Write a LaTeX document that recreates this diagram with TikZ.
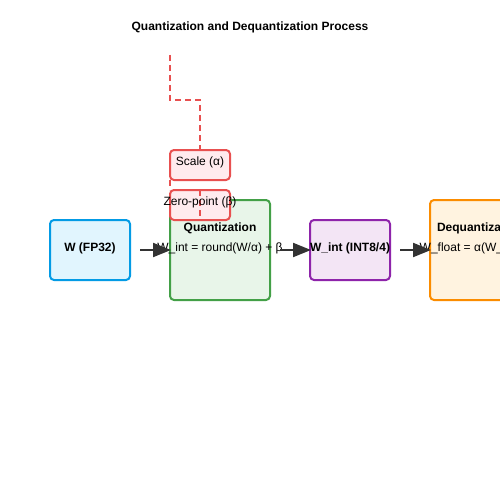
\documentclass[tikz,border=0pt]{standalone}
\usepackage{fontspec}
\setmainfont{Liberation Sans}
\usetikzlibrary{arrows.meta}
\definecolor{bluec}{HTML}{039BE5}\definecolor{bluef}{HTML}{E1F5FE}
\definecolor{greenc}{HTML}{43A047}\definecolor{greenf}{HTML}{E8F5E9}
\definecolor{purc}{HTML}{8E24AA}\definecolor{purf}{HTML}{F3E5F5}
\definecolor{orac}{HTML}{FB8C00}\definecolor{oraf}{HTML}{FFF3E0}
\definecolor{redc}{HTML}{E85050}\definecolor{redf}{HTML}{FFEBEE}
\definecolor{arr}{HTML}{333333}
\tikzset{
  box/.style={draw, line width=2pt, rounded corners=4pt},
  lbl/.style={font=\fontsize{12}{14}\selectfont, inner sep=0pt},
  blbl/.style={font=\bfseries\fontsize{12}{14}\selectfont, inner sep=0pt},
  flow/.style={draw=arr, line width=2pt, -{Triangle[length=18pt,width=14pt]}},
  dashln/.style={draw=redc, line width=2pt, dash pattern=on 6pt off 4pt}
}
\begin{document}
\begin{tikzpicture}[x=1pt,y=-1pt]
\useasboundingbox (0,0) rectangle (500,500);
\clip (0,0) rectangle (500,500);
\fill[white] (0,0) rectangle (500,500);
\node[blbl] (title) at (250,27.5) {Quantization and Dequantization Process};
% dashed lines behind
\coordinate (d0) at (170,55);
\coordinate (d1) at (170,100);
\coordinate (d2) at (200,100);
\coordinate (d3) at (200,150);
\draw[dashln] (d0) -- (d1) -- (d2) -- (d3);
% boxes
\draw[box, draw=bluec, fill=bluef] (50,220) rectangle (130,280);
\draw[box, draw=greenc, fill=greenf] (170,200) rectangle (270,300);
\draw[box, draw=purc, fill=purf] (310,220) rectangle (390,280);
\draw[box, draw=orac, fill=oraf] (430,200) rectangle (530,300);
\draw[box, draw=redc, fill=redf] (170,150) rectangle (230,180);
\coordinate (e0) at (170,180);
\coordinate (e1) at (170,190);
\draw[dashln] (e0) -- (e1);
\draw[box, draw=redc, fill=redf] (170,190) rectangle (230,220);
\coordinate (f0) at (200,190);
\coordinate (f1) at (200,216);
\draw[dashln] (f0) -- (f1);
% texts
\node[blbl] (w) at (90,248) {W (FP32)};
\node[blbl] (q) at (220,228) {Quantization};
\node[lbl] (qf) at (220,248) {W\_int = round(W/α) + β};
\node[blbl] (wi) at (350,248) {W\_int (INT8/4)};
\node[blbl] (dq) at (480,228) {Dequantization};
\node[lbl] (dqf) at (480,248) {W\_float = α(W\_int − β)};
\node[lbl] (sc) at (200,162) {Scale (α)};
\node[lbl] (zp) at (200,202) {Zero-point (β)};
% arrows
\coordinate (a0) at (140,250);\coordinate (a1) at (171,250);
\coordinate (b0) at (280,250);\coordinate (b1) at (311,250);
\coordinate (c0) at (400,250);\coordinate (c1) at (431,250);
\draw[flow] (a0) -- (a1);
\draw[flow] (b0) -- (b1);
\draw[flow] (c0) -- (c1);
\end{tikzpicture}
\end{document}
